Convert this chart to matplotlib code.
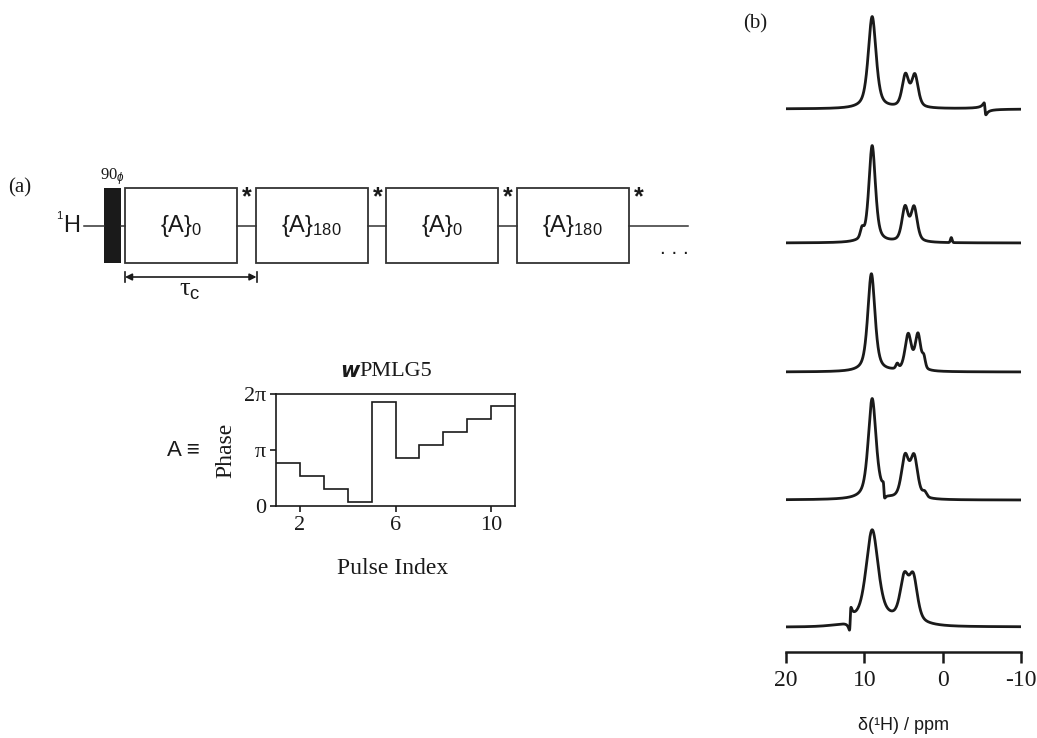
import numpy as np
import matplotlib
matplotlib.use("Agg")
import matplotlib.pyplot as plt
from matplotlib.patches import Rectangle

plt.rcParams['mathtext.fontset'] = 'custom'
plt.rcParams['mathtext.rm'] = 'Liberation Sans'
plt.rcParams['mathtext.it'] = 'Liberation Sans:italic'
SERIF = 'Liberation Serif'
SANS = 'Liberation Sans'
INK = '#1a1a1a'

W, H = 1037, 738

# --- data -------------------------------------------------------------
# pulse sequence blocks (label, phase subscript)
block_labels = ['{A}', '{A}', '{A}', '{A}']
block_phases = ['0', '180', '0', '180']

# wPMLG5 phases, in units of pi, pulses 1..10
pulse_index = np.arange(1, 12)
phase_pi = [0.77, 0.54, 0.31, 0.07, 1.86, 0.85, 1.09, 1.32, 1.55, 1.79]

# spectra: peaks (ppm, height, fwhm, lorentz fraction), top to bottom
spec_peaks = [
    [(9.0, 92, 1.2, 0.6), (4.75, 32, 1.0, 0.5), (3.55, 32, 1.0, 0.5)],
    [(9.0, 97, 1.0, 0.6), (10.3, 9, 0.5, 0.3), (4.8, 34, 0.95, 0.5),
     (3.65, 34, 0.95, 0.5), (-1.1, 5, 0.25, 0.0)],
    [(9.1, 98, 1.1, 0.6), (5.8, 5, 0.4, 0.3), (4.4, 36, 0.95, 0.5),
     (3.15, 36, 0.85, 0.5), (2.4, 10, 0.45, 0.3)],
    [(9.0, 100, 1.2, 0.6), (4.8, 41, 1.1, 0.5), (3.65, 41, 1.1, 0.5),
     (2.3, 5, 0.6, 0.3)],
    [(9.0, 89, 1.8, 0.5), (8.0, 7, 8.0, 0.0), (4.9, 41, 1.25, 0.5),
     (3.75, 43, 1.25, 0.5)],
]
# dispersive glitches (ppm, amplitude, half width) per spectrum
spec_glitch = [
    [(-5.4, 6, 0.12)],
    [],
    [],
    [(7.5, 7, 0.1)],
    [(11.8, -11, 0.1)],
]
baselines = [543, 409, 280, 152, 25]
ppm_ticks = [20, 10, 0, -10]


def peak(x, c, h, fw, eta):
    hw = fw / 2.0
    lor = 1.0 / (1.0 + ((x - c) / hw) ** 2)
    gau = np.exp(-np.log(2) * ((x - c) / hw) ** 2)
    return h * (eta * lor + (1 - eta) * gau)


def glitch(x, c, a, hw):
    u = (x - c) / hw
    return a * u / (1 + u ** 2) * 2


fig = plt.figure(figsize=(W / 100, H / 100), dpi=100)

# --- (a) pulse sequence drawn in pixel coords ---------------------------
ax0 = fig.add_axes([0, 0, 1, 1])
ax0.set_xlim(0, W)
ax0.set_ylim(H, 0)
ax0.axis('off')

y_top, y_bot, y_mid = 188, 263, 226
box_w, gap = 112, 18.5
x0 = 125
ax0.text(8, 188, '(a)', family=SERIF, fontsize=15, ha='left', va='center', color=INK)
ax0.text(80, y_mid, 'H', family=SANS, fontsize=17, ha='right', va='center', color=INK)
ax0.text(62, 216, '1', family=SANS, fontsize=8, ha='right', va='center', color=INK)
ax0.plot([84, 104], [y_mid, y_mid], color='#333', lw=1.1)
ax0.add_patch(Rectangle((104, y_top), 17, y_bot - y_top, color=INK, lw=0))
ax0.plot([121, x0], [y_mid, y_mid], color='#333', lw=1.1)
ax0.text(112, 177, '90$_{\\phi}$', family=SERIF, fontsize=12, ha='center', va='center', color=INK)

for i, (lab, ph) in enumerate(zip(block_labels, block_phases)):
    bx = x0 + i * (box_w + gap)
    ax0.add_patch(Rectangle((bx, y_top), box_w, y_bot - y_top, fill=False,
                            ec='#333', lw=1.3))
    ax0.text(bx + box_w / 2, y_mid, lab + '$_{' + ph + '}$', family=SANS,
             fontsize=17, ha='center', va='center', color=INK)
    ax0.text(bx + box_w + 10, 197, '*', family=SANS, fontsize=18,
             fontweight='bold', ha='center', va='center', color=INK)
    nxt = bx + box_w + gap if i < len(block_labels) - 1 else 688
    ax0.plot([bx + box_w, nxt], [y_mid, y_mid], color='#333', lw=1.1)

ax0.text(674, 249, '. . .', family=SANS, fontsize=15, ha='center', va='center', color=INK)

ax0.annotate('', xy=(x0 + box_w + gap + 1, 277), xytext=(x0, 277),
             arrowprops=dict(arrowstyle='<|-|>', color=INK, lw=1.2,
                             mutation_scale=10, shrinkA=0, shrinkB=0))
for xe in (x0, x0 + box_w + gap + 1):
    ax0.plot([xe, xe], [272, 282], color=INK, lw=1.2)
ax0.text(190, 291, 'τ$_{\\rm c}$', family=SERIF, fontsize=19, ha='center', va='center', color=INK)

# labels around the phase inset
ax0.text(183, 451, 'A ≡', family=SANS, fontsize=16, ha='center', va='center', color=INK)
ax0.text(226, 450, 'Phase', family=SERIF, fontsize=17, rotation=90, ha='center', va='center', color=INK)
ax0.text(393, 568, 'Pulse Index', family=SERIF, fontsize=17, ha='center', va='center', color=INK)
ax0.text(359, 371, 'w', family='DejaVu Sans', fontsize=15, fontweight='bold',
         fontstyle='italic', ha='right', va='center', color=INK)
ax0.text(359, 371, 'PMLG5', family=SERIF, fontsize=16, ha='left', va='center', color=INK)

ax0.text(755, 24, '(b)', family=SERIF, fontsize=15, ha='center', va='center', color=INK)
ax0.text(903, 725, 'δ(¹H) / ppm', family=SANS, fontsize=13, ha='center', va='center', color=INK)

# --- phase inset ------------------------------------------------------
ax1 = fig.add_axes([276 / W, (H - 506) / H, 239 / W, 112 / H])
ax1.stairs(np.array(phase_pi) * np.pi, pulse_index, baseline=None, color=INK, lw=1.2)
ax1.set_xlim(1, 11)
ax1.set_ylim(0, 2 * np.pi)
ax1.set_xticks([2, 6, 10])
ax1.set_yticks([0, np.pi, 2 * np.pi])
ax1.set_yticklabels(['0', 'π', '2π'])
ax1.tick_params(direction='out', length=4, width=1.2, labelsize=16, pad=3, colors=INK)
for lab in ax1.get_xticklabels() + ax1.get_yticklabels():
    lab.set_family(SERIF)
for sp in ax1.spines.values():
    sp.set_linewidth(1.2)
    sp.set_color(INK)

# --- (b) spectra ------------------------------------------------------
ax2 = fig.add_axes([786 / W, (H - 652) / H, (1021 - 786) / W, 652 / H])
ppm = np.linspace(20, -10, 3000)
for peaks, glitches, base in zip(spec_peaks, spec_glitch, baselines):
    y = np.zeros_like(ppm)
    for c, h, fw, eta in peaks:
        y += peak(ppm, c, h, fw, eta)
    for c, a, hw in glitches:
        y += glitch(ppm, c, a, hw)
    ax2.plot(ppm, y + base, color=INK, lw=2.0)

ax2.set_xlim(20, -10)
ax2.set_ylim(0, 652)
for s in ('left', 'right', 'top'):
    ax2.spines[s].set_visible(False)
ax2.spines['bottom'].set_linewidth(1.8)
ax2.spines['bottom'].set_color(INK)
ax2.set_yticks([])
ax2.set_xticks(ppm_ticks)
ax2.set_xticklabels([str(t) for t in ppm_ticks])
ax2.tick_params(axis='x', direction='out', length=8, width=1.8, labelsize=17,
                pad=5, colors=INK)
for lab in ax2.get_xticklabels():
    lab.set_family(SERIF)

fig.savefig('out.png', dpi=100)
